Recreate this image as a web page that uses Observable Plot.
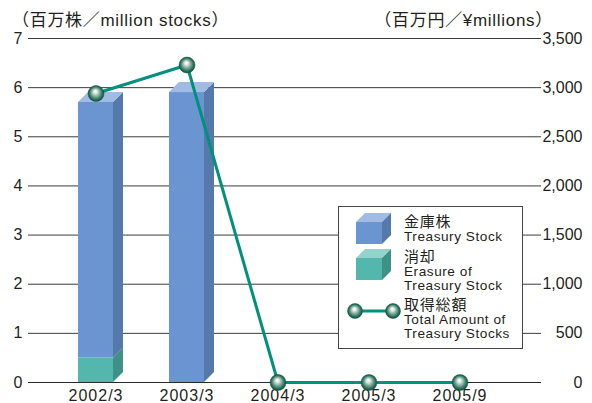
<!DOCTYPE html>
<html><head><meta charset="utf-8">
<script src="https://cdn.jsdelivr.net/npm/d3@7"></script>
<script src="https://cdn.jsdelivr.net/npm/@observablehq/plot@0.6"></script>
<style>
body{margin:0;background:#fff;font-family:"Liberation Sans",Arial,"Noto Sans CJK JP",sans-serif;color:#231f20;}
#wrap{position:relative;width:592px;height:403px;overflow:hidden;}
.ttl{position:absolute;font-size:17px;line-height:17px;letter-spacing:0.7px;white-space:nowrap;}
#legend{position:absolute;left:338px;top:206px;width:185px;height:143px;box-sizing:border-box;border:1px solid #444;background:#fff;}
#legend .lt{position:absolute;left:65px;font-size:13.6px;line-height:13px;letter-spacing:0.55px;white-space:nowrap;}
#legend .lt.jp{font-size:15px;letter-spacing:0.8px;}
#legend svg{position:absolute;left:0;top:0;}
</style></head><body><div id="wrap"></div>
<script>
// ---- data ----
const categories = ["2002/3", "2003/3", "2004/3", "2005/3", "2005/9"];
const treasury = [5.2, 5.9, 0, 0, 0];      // 百万株
const erasure = [0.5, 0, 0, 0, 0];         // 百万株
const amount = [2940, 3230, 0, 0, 0];      // 百万円
const leftTicks = [0, 1, 2, 3, 4, 5, 6, 7];
const rightTicks = [0, 500, 1000, 1500, 2000, 2500, 3000, 3500];
const leftTitle = "（百万株／million stocks）";
const rightTitle = "（百万円／¥millions）";
const legendTreasury = ["金庫株", "Treasury Stock"];
const legendErasure = ["消却", "Erasure of", "Treasury Stock"];
const legendAmount = ["取得総額", "Total Amount of", "Treasury Stocks"];

// ---- styling ----
const ratio = 500; // right-axis units per left-axis unit
const colors = {
  treasury: {front: "#6b95d0", top: "#a2bbe4", side: "#5679ab"},
  erasure: {front: "#53b7ad", top: "#92d3cb", side: "#3e9187"}
};
const lineColor = "#00917d";
const depth = 10;
const sphereStops = [[0, "#ffffff"], [0.2, "#e6eeea"], [0.5, "#88ae9f"], [0.8, "#2a7560"], [1, "#124c3b"]];

const rows = categories.flatMap((c, i) => [
  {cat: c, series: "erasure", value: erasure[i]},
  {cat: c, series: "treasury", value: treasury[i]}
]).filter(d => d.value > 0);
const lineData = categories.map((c, i) => ({cat: c, amount: amount[i]}));

function defsMark() {
  const g = d3.create("svg:g");
  const grad = g.append("defs").append("radialGradient")
    .attr("id", "sph").attr("cx", "50%").attr("cy", "50%").attr("r", "50%")
    .attr("fx", "45%").attr("fy", "35%");
  sphereStops.forEach(([o, c]) => grad.append("stop").attr("offset", o).attr("stop-color", c));
  return g.node();
}

function faces(index, scales) {
  const x = scales.x, y = scales.y;
  const bw = x.bandwidth ? x.bandwidth() : scales.scales.x.bandwidth;
  const g = d3.create("svg:g");
  categories.forEach((c, i) => {
    const segs = [["erasure", 0, erasure[i]], ["treasury", erasure[i], erasure[i] + treasury[i]]]
      .filter(s => s[2] > s[1]);
    segs.forEach(([s, v0, v1], k) => {
      const x1 = x(c) + bw, y0 = y(v0), yt = y(v1);
      g.append("path")
        .attr("d", `M${x1},${y0}L${x1 + depth},${y0 - depth}L${x1 + depth},${yt - depth}L${x1},${yt}Z`)
        .attr("fill", colors[s].side);
      if (k === segs.length - 1) {
        const xl = x(c);
        g.append("path")
          .attr("d", `M${xl},${yt}L${xl + depth},${yt - depth}L${x1 + depth},${yt - depth}L${x1},${yt}Z`)
          .attr("fill", colors[s].top);
      }
    });
  });
  return g.node();
}

const plot = Plot.plot({
  width: 592,
  height: 403,
  marginTop: 38,
  marginBottom: 21,
  marginLeft: 28,
  marginRight: 51,
  style: {fontFamily: '"Liberation Sans", Arial, "Noto Sans CJK JP", sans-serif', fontSize: "16px", color: "#231f20"},
  x: {domain: categories, range: [48.25, 505.75], paddingInner: 0.617, paddingOuter: 0.3085, label: null},
  y: {domain: [0, 7], label: null},
  marks: [
    defsMark,
    Plot.ruleY(leftTicks, {stroke: "#3c3c3c", strokeWidth: 1}),
    Plot.barY(rows, Plot.stackY({x: "cat", y: "value", fill: d => colors[d.series].front})),
    faces,
    Plot.ruleY([0], {stroke: "#2a2a2a", strokeWidth: 1.2}),
    Plot.axisY(leftTicks, {tickSize: 0, tickPadding: 6, fontSize: 16, label: null}),
    Plot.text(rightTicks, {y: d => d / ratio, text: d => d3.format(",")(d), frameAnchor: "right", textAnchor: "end", dx: 41, fontSize: 16}),
    Plot.axisX({tickSize: 0, tickPadding: 7, fontSize: 16, label: null}),
    Plot.line(lineData, {x: "cat", y: d => d.amount / ratio, stroke: lineColor, strokeWidth: 3}),
    Plot.dot(lineData, {x: "cat", y: d => d.amount / ratio, r: 8, fill: "url(#sph)", stroke: "#1a5a47", strokeWidth: 0.5})
  ]
});
plot.querySelectorAll("g[aria-label='x-axis tick label'] text").forEach(t => t.setAttribute("letter-spacing", "1"));

const wrap = document.getElementById("wrap");
wrap.appendChild(plot);

function addTitle(text, style) {
  const d = document.createElement("div");
  d.className = "ttl"; d.textContent = text;
  Object.assign(d.style, style);
  wrap.appendChild(d);
}
addTitle(leftTitle, {left: "12px", top: "12px"});
addTitle(rightTitle, {right: "39px", top: "12px"});

// ---- legend ----
const legend = document.createElement("div");
legend.id = "legend";
wrap.appendChild(legend);
const ls = d3.select(legend).append("svg").attr("width", 183).attr("height", 141);
ls.append("defs").append("radialGradient").attr("id", "sph2").attr("cx", "50%").attr("cy", "50%").attr("r", "50%").attr("fx", "45%").attr("fy", "35%")
  .call(gr => sphereStops.forEach(([o, c]) => gr.append("stop").attr("offset", o).attr("stop-color", c)));
function cube(c, x, y, w, h, dd) {
  ls.append("rect").attr("x", x).attr("y", y).attr("width", w).attr("height", h).attr("fill", c.front);
  ls.append("path").attr("d", `M${x},${y}L${x + dd},${y - dd}L${x + w + dd},${y - dd}L${x + w},${y}Z`).attr("fill", c.top);
  ls.append("path").attr("d", `M${x + w},${y}L${x + w + dd},${y - dd}L${x + w + dd},${y + h - dd}L${x + w},${y + h}Z`).attr("fill", c.side);
}
cube(colors.treasury, 17, 15, 26, 22, 9);
cube(colors.erasure, 17, 51, 26, 22, 9);
ls.append("line").attr("x1", 16).attr("x2", 54).attr("y1", 104).attr("y2", 104).attr("stroke", lineColor).attr("stroke-width", 3);
[16, 54].forEach(cx => ls.append("circle").attr("cx", cx).attr("cy", 104).attr("r", 7.5).attr("fill", "url(#sph2)").attr("stroke", "#1a5a47").attr("stroke-width", 0.5));

const legendLines = [
  [legendTreasury, [221, 236.5]],
  [legendErasure, [256, 271, 285]],
  [legendAmount, [304, 319.5, 333.5]]
];
legendLines.forEach(([texts, ys]) => texts.forEach((t, i) => {
  const d = document.createElement("div");
  d.className = i === 0 ? "lt jp" : "lt"; d.textContent = t;
  d.style.top = (ys[i] - 207 - 6.5) + "px";
  legend.appendChild(d);
}));
</script>
</body></html>
